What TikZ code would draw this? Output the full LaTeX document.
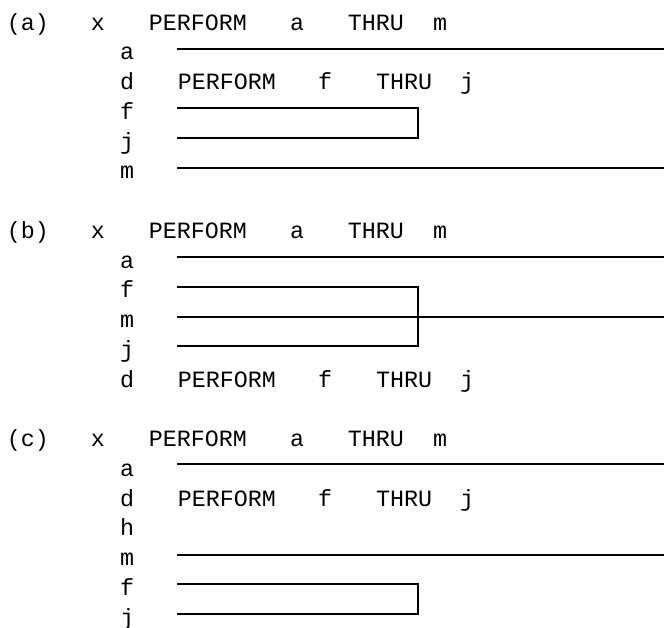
\documentclass[tikz,border=0pt]{standalone}
\usepackage{fontspec}
\newfontfamily\codefont{Liberation Mono}
\usepackage{tikz}

\begin{document}
\begin{tikzpicture}[x=0.75pt, y=-0.75pt,
    code/.style={anchor=base, inner sep=0pt, font=\codefont\fontsize{17.5}{17.5}\selectfont},
    wire/.style={line width=1.5pt}
]
    \useasboundingbox (0,0) rectangle (664,628);

    % (a) header
    \node[code] (tagA) at (28,30) {(a)};
    \node[code] (xA) at (98,30) {x};
    \node[code] (perfA) at (198,30) {PERFORM};
    \node[code] (fromA) at (297,30) {a};
    \node[code] (thruA) at (376,30) {THRU};
    \node[code] (toA) at (440,30) {m};

    % (a) paragraphs
    \node[code] (aA) at (127,59.75) {a};
    \node[code] (dA) at (127,89.5) {d};
    \node[code] (fA) at (127,119.25) {f};
    \node[code] (jA) at (127,149) {j};
    \node[code] (mA) at (127,178.75) {m};
    \node[code] (perfdA) at (227,89.5) {PERFORM};
    \node[code] (fromdA) at (325,89.5) {f};
    \node[code] (thrudA) at (404,89.5) {THRU};
    \node[code] (todA) at (467,89.5) {j};

    % (a) ranges
    \coordinate (aA0) at (177,49);   \coordinate (aA1) at (664,49);
    \coordinate (fA0) at (177,108);  \coordinate (fA1) at (418,108);
    \coordinate (jA0) at (177,138);  \coordinate (jA1) at (418,138);
    \coordinate (mA0) at (177,168);  \coordinate (mA1) at (664,168);
    \draw[wire] (aA0) -- (aA1);
    \draw[wire] (fA0) -- (fA1) -- (jA1) -- (jA0);
    \draw[wire] (mA0) -- (mA1);

    % (b) header
    \node[code] (tagB) at (28,238.25) {(b)};
    \node[code] (xB) at (98,238.25) {x};
    \node[code] (perfB) at (198,238.25) {PERFORM};
    \node[code] (fromB) at (297,238.25) {a};
    \node[code] (thruB) at (376,238.25) {THRU};
    \node[code] (toB) at (440,238.25) {m};

    % (b) paragraphs
    \node[code] (aB) at (127,268) {a};
    \node[code] (fB) at (127,297.75) {f};
    \node[code] (mB) at (127,327.5) {m};
    \node[code] (jB) at (127,357.25) {j};
    \node[code] (dB) at (127,387) {d};
    \node[code] (perfdB) at (227,387) {PERFORM};
    \node[code] (fromdB) at (325,387) {f};
    \node[code] (thrudB) at (404,387) {THRU};
    \node[code] (todB) at (467,387) {j};

    % (b) ranges
    \coordinate (aB0) at (177,257);  \coordinate (aB1) at (664,257);
    \coordinate (fB0) at (177,287);  \coordinate (fB1) at (418,287);
    \coordinate (mB0) at (177,317);  \coordinate (mB1) at (664,317);
    \coordinate (jB0) at (177,346);  \coordinate (jB1) at (418,346);
    \draw[wire] (aB0) -- (aB1);
    \draw[wire] (fB0) -- (fB1) -- (jB1) -- (jB0);
    \draw[wire] (mB0) -- (mB1);

    % (c) header
    \node[code] (tagC) at (28,446.5) {(c)};
    \node[code] (xC) at (98,446.5) {x};
    \node[code] (perfC) at (198,446.5) {PERFORM};
    \node[code] (fromC) at (297,446.5) {a};
    \node[code] (thruC) at (376,446.5) {THRU};
    \node[code] (toC) at (440,446.5) {m};

    % (c) paragraphs
    \node[code] (aC) at (127,476.25) {a};
    \node[code] (dC) at (127,506) {d};
    \node[code] (hC) at (127,535.75) {h};
    \node[code] (mC) at (127,565.5) {m};
    \node[code] (fC) at (127,595.25) {f};
    \node[code] (jC) at (127,625) {j};
    \node[code] (perfdC) at (227,506) {PERFORM};
    \node[code] (fromdC) at (325,506) {f};
    \node[code] (thrudC) at (404,506) {THRU};
    \node[code] (todC) at (467,506) {j};

    % (c) ranges
    \coordinate (aC0) at (177,464);  \coordinate (aC1) at (664,464);
    \coordinate (mC0) at (177,555);  \coordinate (mC1) at (664,555);
    \coordinate (fC0) at (177,584);  \coordinate (fC1) at (418,584);
    \coordinate (jC0) at (177,614);  \coordinate (jC1) at (418,614);
    \draw[wire] (aC0) -- (aC1);
    \draw[wire] (mC0) -- (mC1);
    \draw[wire] (fC0) -- (fC1) -- (jC1) -- (jC0);
\end{tikzpicture}
\end{document}
